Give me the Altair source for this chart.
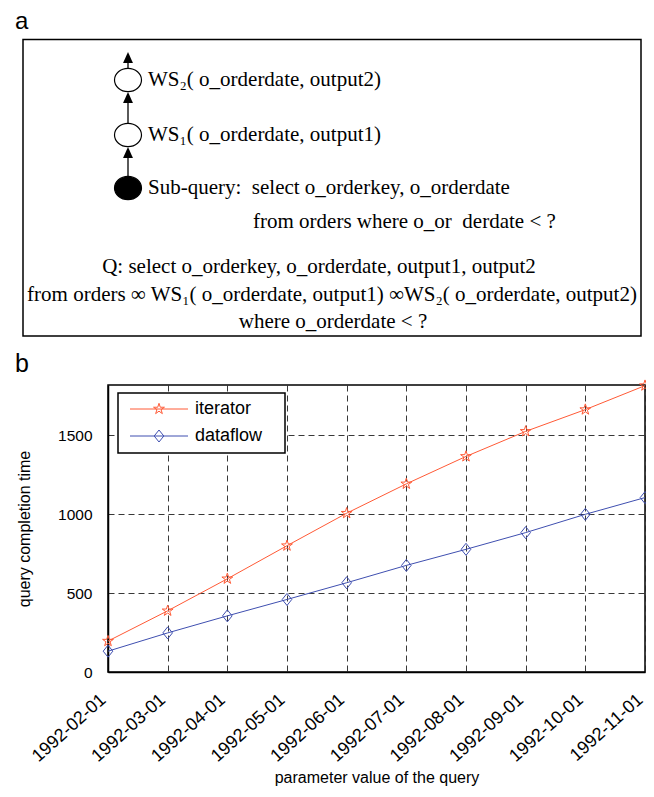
import math
import altair as alt
import pandas as pd

# ---------------- data ----------------
dates = ["1992-02-01", "1992-03-01", "1992-04-01", "1992-05-01", "1992-06-01",
         "1992-07-01", "1992-08-01", "1992-09-01", "1992-10-01", "1992-11-01"]
iterator = [196, 388, 591, 801, 1007, 1193, 1367, 1526, 1664, 1816]
dataflow = [132, 248, 356, 460, 566, 676, 778, 884, 1000, 1106]
series = ["iterator", "dataflow"]
colors = ["#ff5a36", "#3f4fb0"]
y_ticks = [0, 500, 1000, 1500]

panel_a_lines = {
    "ws2": "WS\u2082( o_orderdate, output2)",
    "ws1": "WS\u2081( o_orderdate, output1)",
    "sub1": "Sub-query:\u00a0\u00a0select o_orderkey, o_orderdate",
    "sub2": "from orders where o_or\u00a0 derdate < ?",
    "q1": "Q: select o_orderkey, o_orderdate, output1, output2",
    "q2": "from orders \u221e WS\u2081( o_orderdate, output1) \u221eWS\u2082( o_orderdate, output2)",
    "q3": "where o_orderdate < ?",
}

rows = []
for d, a, b in zip(dates, iterator, dataflow):
    rows.append({"date": d, "series": "iterator", "time": a})
    rows.append({"date": d, "series": "dataflow", "time": b})
df = pd.DataFrame(rows)

# ---------------- marker shapes (style) ----------------
def star_path(R=0.95, ratio=0.382):
    pts = []
    for k in range(10):
        ang = math.radians(-90 + 36 * k)
        r = R if k % 2 == 0 else R * ratio
        pts.append((r * math.cos(ang), r * math.sin(ang)))
    return "M" + "L".join(f"{x:.3f},{y:.3f}" for x, y in pts) + "Z"

STAR = star_path()
DIAMOND = "M0,-1L0.8,0L0,1L-0.8,0Z"
ELLIPSE = "M1,0A1,0.86 0 1,1 -1,0A1,0.86 0 1,1 1,0Z"
TRI = "M0,-1L0.9,1L-0.9,1Z"

W, H = 537, 287
SERIF = "Liberation Serif"
SANS = "Liberation Sans"

x_enc = alt.X("date:N", sort=dates, scale=alt.Scale(type="point", padding=0),
              axis=alt.Axis(title="parameter value of the query", labelAngle=318,
                            labelAlign="right", labelBaseline="middle",
                            labelPadding=25, labelOffset=-5, labelFontSize=18,
                            titleFontSize=16, titleY=97, titleBaseline="top"))
y_enc = alt.Y("time:Q", scale=alt.Scale(domain=[0, 1820], nice=False, zero=True),
              axis=alt.Axis(title="query completion time", values=y_ticks, format="d",
                            labelFontSize=15.5, labelPadding=16, titleFontSize=16,
                            titlePadding=25))
color_enc = alt.Color("series:N", scale=alt.Scale(domain=series, range=colors), legend=None)
shape_enc = alt.Shape("series:N", scale=alt.Scale(domain=series, range=[STAR, DIAMOND]), legend=None)

lines = alt.Chart(df).mark_line(strokeWidth=1).encode(
    x=x_enc, y=y_enc, color=color_enc, detail="series:N")
points = alt.Chart(df).mark_point(filled=False, strokeWidth=1, size=144, opacity=1).encode(
    x="date:N", y="time:Q", color=color_enc, shape=shape_enc)

one = alt.Data(values=[{}])

# ---------------- legend (drawn) ----------------
legend_layers = [
    alt.Chart(one).mark_rect(fill="white", stroke="black", strokeWidth=1.5).encode(
        x=alt.value(10), x2=alt.value(177), y=alt.value(8), y2=alt.value(68))
]
for i, s in enumerate(series):
    yy = 24 + 27 * i
    src = alt.Data(values=[{"series": s}])
    legend_layers.append(alt.Chart(src).mark_rule(strokeWidth=1).encode(
        x=alt.value(22), x2=alt.value(80), y=alt.value(yy), color=color_enc))
    legend_layers.append(alt.Chart(src).mark_point(filled=False, strokeWidth=1, size=144, opacity=1).encode(
        x=alt.value(51), y=alt.value(yy), color=color_enc, shape=shape_enc))
    legend_layers.append(alt.Chart(src).mark_text(align="left", baseline="middle", fontSize=18,
                                                  font=SANS, color="black").encode(
        x=alt.value(87), y=alt.value(yy), text="series:N"))

# ---------------- panel a (diagram, plot-relative pixel offsets) ----------------
def txt(t, x, y, align="left", size=21, font=SERIF, baseline="middle"):
    return alt.Chart(one).mark_text(text=t, align=align, baseline=baseline, fontSize=size,
                                     font=font, color="black").encode(x=alt.value(x), y=alt.value(y))

def rule(x, y1, y2):
    return alt.Chart(one).mark_rule(color="black", strokeWidth=1.3).encode(
        x=alt.value(x), y=alt.value(y1), y2=alt.value(y2))

def node(x, y, filled):
    return alt.Chart(one).mark_point(shape=ELLIPSE, size=729, filled=filled, opacity=1,
                                      fill="black" if filled else "white",
                                      stroke="black", strokeWidth=1.2).encode(
        x=alt.value(x), y=alt.value(y))

def head(x, y):
    return alt.Chart(one).mark_point(shape=TRI, size=121, filled=True, opacity=1,
                                      color="black").encode(x=alt.value(x), y=alt.value(y))

cx = 20
panel_a = [
    alt.Chart(one).mark_rect(fillOpacity=0, stroke="black", strokeWidth=1.5).encode(
        x=alt.value(-85), x2=alt.value(533), y=alt.value(-345.5), y2=alt.value(-49)),
    txt("a", -93, -356, size=24, font=SANS, baseline="alphabetic"),
    txt("b", -93, -13, size=25, font=SANS, baseline="alphabetic"),
    rule(cx, -327, -317), rule(cx, -287, -262), rule(cx, -232, -209),
    head(cx, -327.5), head(cx, -287.5), head(cx, -232.5),
    node(cx, -305, False), node(cx, -250, False), node(cx, -197, True),
    txt(panel_a_lines["ws2"], 40, -305),
    txt(panel_a_lines["ws1"], 40, -250),
    txt(panel_a_lines["sub1"], 40, -197),
    txt(panel_a_lines["sub2"], 145, -163.5),
    txt(panel_a_lines["q1"], 211, -118.5, align="center"),
    txt(panel_a_lines["q2"], 224, -90, align="center"),
    txt(panel_a_lines["q3"], 225, -63.5, align="center"),
]

chart = alt.layer(lines, points, *legend_layers, *panel_a).properties(
    width=W, height=H,
    autosize=alt.AutoSizeParams(type="none"),
    padding={"left": 100, "top": 377, "right": 1, "bottom": 117},
).configure(font=SANS).configure_view(
    stroke="black", strokeWidth=1.5
).configure_axis(
    domainColor="black", domainWidth=1.5, ticks=False,
    grid=True, gridColor="#222222", gridDash=[6, 4], gridWidth=1, gridOpacity=0.9,
    labelColor="black", titleColor="black", labelFont=SANS, titleFont=SANS,
    titleFontWeight="normal",
)

chart.save("out.html", embed_options={"renderer": "svg", "actions": False})
